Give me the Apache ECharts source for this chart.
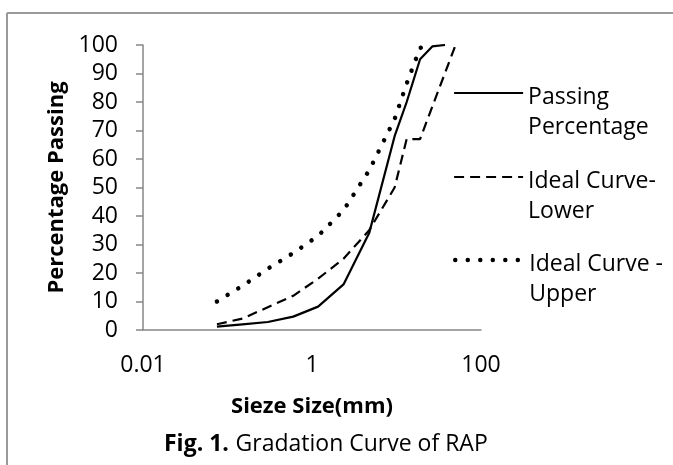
<!DOCTYPE html>
<html>
<head>
<meta charset="utf-8">
<script src="https://cdn.jsdelivr.net/npm/echarts@6/dist/echarts.min.js"></script>
<style>
html,body{margin:0;padding:0;background:#fff;}
#chart{width:673px;height:465px;}
</style>
</head>
<body>
<div id="chart"></div>
<script>
// Sieve sizes (mm)
var sieveSizes = [0.075, 0.15, 0.3, 0.6, 1.18, 2.36, 4.75, 9.5, 13.2, 19, 26.5, 37.5, 50];
// Percentage passing per series (null = no point at that sieve)
var passingPercentage = [1.2, 2, 2.8, 4.7, 8.2, 16, 34, 68, 80, 95, 99.5, 100, null];
var idealLower = [2, 4, 8, 12, 18, 25, 35, 50, 67, 67, null, null, 100];
var idealUpper = [10, 15.5, 21.5, 27, 33, 42, 56, 74, 86.5, 99, 100, null, null];
var seriesNames = ['Passing Percentage', 'Ideal Curve-Lower', 'Ideal Curve - Upper'];
var legendLine1 = ['Passing', 'Ideal Curve-', 'Ideal Curve -'];
var legendLine2 = ['Percentage', 'Lower', 'Upper'];
var yTicks = [0, 10, 20, 30, 40, 50, 60, 70, 80, 90, 100];
var xTicks = [0.01, 1, 100];

function pairs(vals) {
  var out = [];
  for (var i = 0; i < sieveSizes.length; i++) {
    if (vals[i] !== null) out.push([sieveSizes[i], vals[i]]);
  }
  return out;
}

var FONT = 'Open Sans';
var chart = echarts.init(document.getElementById('chart'), null, {renderer: 'canvas'});

var lineStyles = [
  {color: '#000', width: 2.2, type: 'solid'},
  {color: '#000', width: 2.2, type: [10, 6]},
  {color: '#000', width: 4.5, type: [0.01, 12.5], cap: 'round'}
];

function legendFor(idx, top) {
  return {
    show: true,
    left: 448,
    top: top,
    orient: 'vertical',
    data: [seriesNames[idx]],
    itemWidth: 69,
    itemHeight: 14,
    itemGap: 0,
    selectedMode: false,
    itemStyle: {opacity: 0, borderWidth: 0},
    lineStyle: {color: '#000', width: lineStyles[idx].width, type: lineStyles[idx].type, cap: lineStyles[idx].cap || 'butt'},
    formatter: function () { return '{s| }\n{t|' + legendLine1[idx] + '}\n{t|' + legendLine2[idx] + '}'; },
    textStyle: {
      fontFamily: FONT, fontSize: 23, color: '#000', lineHeight: 30,
      rich: {
        s: {fontFamily: FONT, fontSize: 23, lineHeight: 38},
        t: {fontFamily: FONT, fontSize: 23, color: '#000', lineHeight: 30}
      }
    }
  };
}

var option = {
  backgroundColor: '#fff',
  animation: false,
  grid: {left: 143, right: 192, top: 45, bottom: 135, containLabel: false},
  xAxis: {
    type: 'log',
    logBase: 100,
    min: 0.01,
    max: 100,
    name: 'Sieze Size(mm)',
    nameLocation: 'middle',
    nameGap: 66,
    nameTextStyle: {fontFamily: FONT, fontSize: 22, fontWeight: 'bold', color: '#000'},
    axisLine: {show: true, lineStyle: {color: '#878787', width: 1.5}},
    axisTick: {show: false},
    splitLine: {show: false},
    axisLabel: {
      fontFamily: FONT, fontSize: 23, color: '#000', margin: 24,
      formatter: function (v) {
        for (var i = 0; i < xTicks.length; i++) {
          if (Math.abs(v - xTicks[i]) / xTicks[i] < 1e-6) return String(xTicks[i]);
        }
        return '';
      }
    }
  },
  yAxis: {
    type: 'value',
    min: yTicks[0],
    max: yTicks[yTicks.length - 1],
    interval: 10,
    name: 'Percentage Passing',
    nameLocation: 'middle',
    nameGap: 75,
    nameTextStyle: {fontFamily: FONT, fontSize: 22, fontWeight: 'bold', color: '#000'},
    axisLine: {show: true, lineStyle: {color: '#878787', width: 1.5}},
    axisTick: {show: true, inside: false, length: 7, lineStyle: {color: '#878787', width: 1.5}},
    splitLine: {show: false},
    axisLabel: {fontFamily: FONT, fontSize: 23, color: '#000', margin: 25}
  },
  legend: [legendFor(0, 39), legendFor(1, 123), legendFor(2, 206)],
  series: [
    {
      name: seriesNames[0], type: 'line', data: pairs(passingPercentage),
      showSymbol: false, symbol: 'none', z: 3,
      itemStyle: {color: '#000'},
      lineStyle: lineStyles[0]
    },
    {
      name: seriesNames[1], type: 'line', data: pairs(idealLower),
      showSymbol: false, symbol: 'none', z: 2,
      itemStyle: {color: '#000'},
      lineStyle: lineStyles[1]
    },
    {
      name: seriesNames[2], type: 'line', data: pairs(idealUpper),
      showSymbol: false, symbol: 'none', z: 2,
      itemStyle: {color: '#000'},
      lineStyle: lineStyles[2]
    }
  ],
  graphic: [
    {type: 'line', shape: {x1: 7, y1: 13, x2: 7, y2: 465}, style: {stroke: '#9a9a9a', lineWidth: 2}, silent: true},
    {type: 'line', shape: {x1: 7, y1: 13, x2: 673, y2: 13}, style: {stroke: '#9a9a9a', lineWidth: 2}, silent: true},
    {
      type: 'text', left: 164, top: 433, silent: true,
      style: {
        text: '{b|Fig. 1.}  {r|Gradation Curve of RAP}',
        rich: {
          b: {fontFamily: FONT, fontSize: 23, fontWeight: 'bold', fill: '#000'},
          r: {fontFamily: FONT, fontSize: 23, fill: '#000'}
        }
      }
    }
  ]
};
chart.setOption(option);
</script>
</body>
</html>
